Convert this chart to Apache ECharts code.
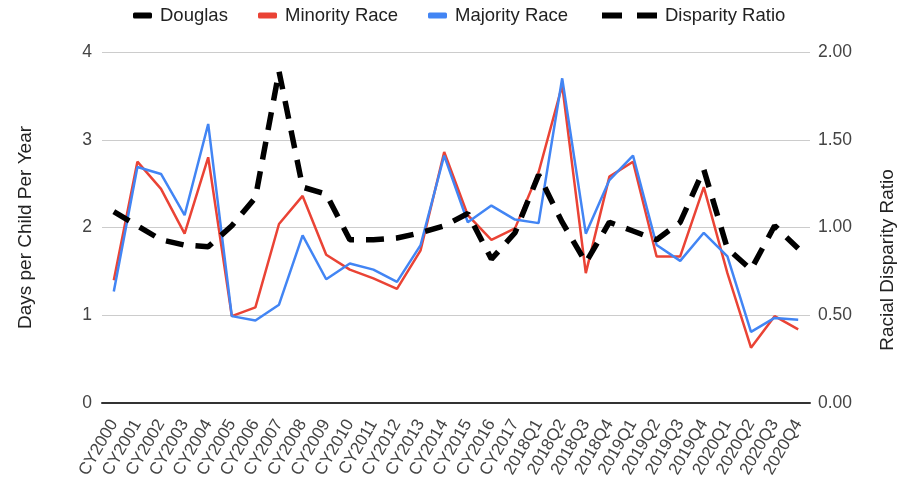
<!DOCTYPE html>
<html>
<head>
<meta charset="utf-8">
<script src="https://cdn.jsdelivr.net/npm/echarts@6.0.0/dist/echarts.min.js"></script>
<style>
  html, body { margin: 0; padding: 0; background: #fff; }
  #chart { width: 908px; height: 484px; }
</style>
</head>
<body>
<div id="chart"></div>
<script>
// periods on the x axis
const periods = [
  "CY2000", "CY2001", "CY2002", "CY2003", "CY2004", "CY2005", "CY2006", "CY2007",
  "CY2008", "CY2009", "CY2010", "CY2011", "CY2012", "CY2013", "CY2014", "CY2015",
  "CY2016", "CY2017", "2018Q1", "2018Q2", "2018Q3", "2018Q4", "2019Q1", "2019Q2",
  "2019Q3", "2019Q4", "2020Q1", "2020Q2", "2020Q3", "2020Q4"
];
// days per child per year (left axis)
const minorityRace = [
  1.40, 2.75, 2.44, 1.93, 2.80, 0.99, 1.09, 2.04, 2.36, 1.69, 1.52, 1.42, 1.30, 1.74, 2.86,
  2.14, 1.86, 1.99, 2.63, 3.62, 1.48, 2.58, 2.75, 1.67, 1.67, 2.46, 1.48, 0.63, 0.99, 0.84
];
const majorityRace = [
  1.27, 2.69, 2.61, 2.14, 3.18, 0.99, 0.94, 1.12, 1.91, 1.41, 1.59, 1.52, 1.38, 1.80, 2.82,
  2.06, 2.25, 2.09, 2.05, 3.70, 1.93, 2.54, 2.82, 1.80, 1.62, 1.94, 1.67, 0.81, 0.97, 0.95
];
// racial disparity ratio (right axis)
const disparityRatio = [
  1.09, 1.01, 0.93, 0.90, 0.89, 1.01, 1.17, 1.89, 1.23, 1.19, 0.93, 0.93, 0.94, 0.97, 1.01,
  1.08, 0.82, 0.97, 1.30, 1.03, 0.80, 1.03, 0.98, 0.93, 1.03, 1.33, 0.88, 0.76, 1.01, 0.88
];
// Douglas has no points of its own, it only shows in the legend
const douglas = [];

const font = "'Liberation Sans', Arial, sans-serif";
const red = "#ea4335";
const blue = "#4285f4";

function legendItem(name, left, icon, width) {
  return {
    data: [name],
    left: left,
    top: 1,
    icon: icon,
    itemWidth: width,
    itemHeight: 6,
    textStyle: { fontFamily: font, fontSize: 18.5, color: "#222", padding: [0, 0, 0, 3] },
  };
}

const chart = echarts.init(document.getElementById("chart"));
chart.setOption({
  animation: false,
  textStyle: { fontFamily: font },
  legend: [
    legendItem("Douglas", 128, "roundRect", 19),
    legendItem("Minority Race", 253, "roundRect", 19),
    legendItem("Majority Race", 423, "roundRect", 19),
    legendItem("Disparity Ratio", 597, "path://M0,0h20v6h-20z M35,0h20v6h-20z", 55),
  ],
  grid: { left: 102, right: 98, top: 52, bottom: 81 },
  xAxis: {
    type: "category",
    data: periods,
    boundaryGap: true,
    axisLine: { lineStyle: { color: "#333", width: 2 } },
    axisTick: { alignWithLabel: true, inside: true, length: 7, lineStyle: { color: "#333" } },
    axisLabel: { rotate: 60, interval: 0, fontSize: 17, color: "#444", margin: 18 },
  },
  yAxis: [
    {
      type: "value",
      min: 0,
      max: 4,
      interval: 1,
      name: "Days per Child Per Year",
      nameLocation: "middle",
      nameGap: 67,
      nameTextStyle: { fontSize: 19, color: "#222" },
      axisLine: { show: false },
      axisTick: { show: false },
      axisLabel: { fontSize: 17.5, color: "#444", margin: 10 },
      splitLine: { lineStyle: { color: "#ccc" } },
    },
    {
      type: "value",
      min: 0,
      max: 2,
      interval: 0.5,
      axisLine: { show: false },
      axisTick: { show: false },
      axisLabel: {
        fontSize: 17.5,
        color: "#444",
        margin: 8,
        formatter: (v) => v.toFixed(2),
      },
      splitLine: { show: false },
    },
  ],
  graphic: [
    {
      type: "text",
      x: 888,
      y: 260,
      rotation: Math.PI / 2,
      style: {
        text: "Racial Disparity Ratio",
        fontFamily: font,
        fontSize: 19,
        fill: "#222",
        align: "center",
        verticalAlign: "middle",
      },
    },
  ],
  series: [
    {
      name: "Douglas",
      type: "line",
      data: douglas,
      color: "#000",
      showSymbol: false,
    },
    {
      name: "Minority Race",
      type: "line",
      data: minorityRace,
      color: red,
      symbol: "none",
      lineStyle: { width: 2.5 },
    },
    {
      name: "Majority Race",
      type: "line",
      data: majorityRace,
      color: blue,
      symbol: "none",
      lineStyle: { width: 2.5 },
    },
    {
      name: "Disparity Ratio",
      type: "line",
      yAxisIndex: 1,
      data: disparityRatio,
      color: "#000",
      symbol: "none",
      lineStyle: { width: 5.5, type: [18, 12], cap: "butt" },
    },
  ],
});
</script>
</body>
</html>
